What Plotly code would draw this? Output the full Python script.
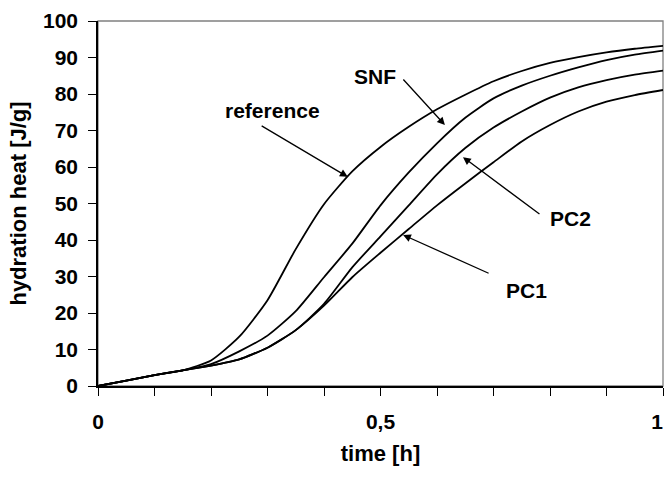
import plotly.graph_objects as go

time_h = [0, 0.05, 0.1, 0.15, 0.2, 0.25, 0.3, 0.35, 0.4, 0.45, 0.5,
          0.55, 0.6, 0.65, 0.7, 0.75, 0.8, 0.85, 0.9, 0.95, 1.0]
heat_reference = [0, 1.5, 3.0, 4.3, 7.0, 13.5, 23.5, 37.5, 49.8, 58.8, 65.5,
                  71.0, 75.8, 79.8, 83.5, 86.3, 88.5, 90.1, 91.4, 92.4, 93.2]
heat_snf = [0, 1.5, 3.0, 4.3, 6.0, 9.5, 13.8, 20.5, 29.8, 39.0, 49.5,
            58.5, 66.5, 73.5, 78.8, 82.3, 85.0, 87.3, 89.3, 90.8, 91.9]
heat_pc2 = [0, 1.5, 3.0, 4.3, 5.6, 7.3, 10.5, 15.3, 22.5, 32.5, 41.0,
            49.5, 58.0, 65.2, 70.8, 75.2, 79.0, 81.8, 83.8, 85.3, 86.4]
heat_pc1 = [0, 1.5, 3.0, 4.3, 5.6, 7.3, 10.5, 15.3, 22.0, 29.8, 36.5,
            43.0, 49.5, 55.5, 61.3, 67.0, 71.5, 75.2, 77.9, 79.7, 81.1]

x_tickvals = [0, 0.1, 0.2, 0.3, 0.4, 0.5, 0.6, 0.7, 0.8, 0.9, 1.0]
x_ticktext = ["0", "", "", "", "", "0,5", "", "", "", "", "1\u00a0\u00a0"]
y_tickvals = [0, 10, 20, 30, 40, 50, 60, 70, 80, 90, 100]

FONT = "Liberation Sans, Arial, sans-serif"

fig = go.Figure()
for name, ys in [("reference", heat_reference), ("SNF", heat_snf),
                 ("PC2", heat_pc2), ("PC1", heat_pc1)]:
    fig.add_trace(go.Scatter(x=time_h, y=ys, mode="lines", name=name,
                             line=dict(color="black", width=1.8, shape="spline", smoothing=0.6),
                             showlegend=False, hoverinfo="skip", cliponaxis=False))

labels = [
    # text, text_x, text_y, tail_x, tail_y, tip_x, tip_y
    ("reference", 0.308, 75.6, 0.287, 71.5, 0.442, 57.3),
    ("SNF", 0.490, 84.7, 0.538, 84.4, 0.614, 71.5),
    ("PC2", 0.837, 46.0, 0.784, 46.8, 0.646, 62.7),
    ("PC1", 0.758, 26.3, 0.694, 30.7, 0.540, 41.4),
]
annotations = []
for text, tx, ty, ax_, ay_, hx, hy in labels:
    annotations.append(dict(x=tx, y=ty, xref="x", yref="y", text=text,
                            showarrow=False,
                            font=dict(family=FONT, size=21, color="black", weight="bold")))
    annotations.append(dict(x=hx, y=hy, ax=ax_, ay=ay_, xref="x", yref="y",
                            axref="x", ayref="y", text="", showarrow=True,
                            arrowhead=2, arrowsize=1.2, arrowwidth=1.3, arrowcolor="black"))

tick_font = dict(family=FONT, size=21, color="black", weight="bold")
title_font = dict(family=FONT, size=22, color="black", weight="bold")

fig.update_layout(
    width=665, height=481, autosize=False,
    margin=dict(l=98, r=2, t=21, b=95),
    paper_bgcolor="white", plot_bgcolor="white",
    font=dict(family=FONT, color="black"),
    annotations=annotations,
    shapes=[dict(type="rect", xref="paper", yref="paper", x0=0, y0=0, x1=1, y1=1,
                 line=dict(color="#808080", width=1.3), layer="below")],
    xaxis=dict(range=[0, 1], tickvals=x_tickvals, ticktext=x_ticktext,
               ticks="outside", ticklen=8, tickwidth=1.2, tickcolor="black",
               showline=True, linecolor="black", linewidth=1.6,
               showgrid=False, zeroline=False, automargin=False,
               ticklabeloverflow="allow", ticklabelstandoff=8,
               tickfont=tick_font,
               title=dict(text="time [h]", font=title_font, standoff=14)),
    yaxis=dict(range=[0, 100], tickvals=y_tickvals,
               ticks="outside", ticklen=8, tickwidth=1.2, tickcolor="black",
               showline=True, linecolor="black", linewidth=1.6,
               showgrid=False, zeroline=False, automargin=False,
               ticklabeloverflow="allow", ticklabelstandoff=6,
               tickfont=tick_font,
               title=dict(text="hydration heat [J/g]", font=title_font, standoff=10)),
)

post = ("document.body.style.margin='0';document.body.style.padding='0';"
        "document.body.style.overflow='hidden';"
        "var gd=document.getElementById('{plot_id}');"
        "Plotly.relayout(gd,{width:665,height:481});")

fig.write_html("out.html", post_script=post, config={"displayModeBar": False})
